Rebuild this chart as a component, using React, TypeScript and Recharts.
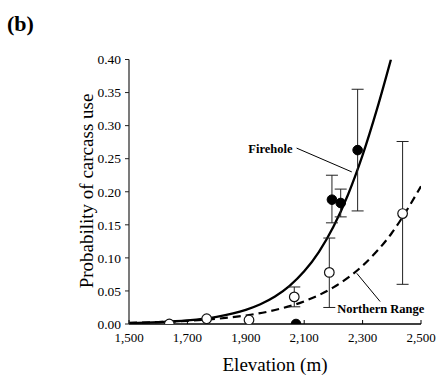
import React from 'react';
import {
  ComposedChart,
  Line,
  Scatter,
  XAxis,
  YAxis,
  ErrorBar,
  ReferenceLine,
  ReferenceDot,
} from 'recharts';

// ---- tick labels ----
const xTicks = [1500, 1700, 1900, 2100, 2300, 2500];
const yTicks = [0, 0.05, 0.1, 0.15, 0.2, 0.25, 0.3, 0.35, 0.4];

// ---- fitted curve: Firehole (solid) ----
const fireholeCurveElev = [1500, 1600, 1700, 1800, 1900, 1950, 2000, 2050, 2100, 2150, 2200, 2250, 2300, 2350, 2397];
const fireholeCurveProb = [0.0014, 0.0028, 0.0055, 0.0109, 0.0214, 0.0299, 0.0416, 0.0577, 0.0796, 0.1088, 0.147, 0.1955, 0.2553, 0.326, 0.4];

// ---- fitted curve: Northern Range (dashed) ----
const northernCurveElev = [1500, 1600, 1700, 1800, 1900, 2000, 2100, 2200, 2300, 2400, 2500];
const northernCurveProb = [0.0018, 0.0029, 0.0048, 0.0079, 0.0129, 0.0211, 0.0343, 0.0554, 0.0882, 0.1376, 0.2084];

// ---- observed: Firehole (filled circles) ----
const fireholeElev = [2072, 2195, 2225, 2283];
const fireholeProb = [0, 0.188, 0.183, 0.263];
const fireholeLow = [null, 0.153, 0.162, 0.171];
const fireholeHigh = [null, 0.225, 0.204, 0.355];

// ---- observed: Northern Range (open circles) ----
const northernElev = [1638, 1766, 1911, 2066, 2186, 2437];
const northernProb = [0, 0.008, 0.006, 0.041, 0.078, 0.167];
const northernLow = [null, null, null, 0.026, 0.025, 0.06];
const northernHigh = [null, null, null, 0.056, 0.13, 0.276];

const curve = (xs: number[], ys: number[]) => xs.map((e, i) => ({ e, p: ys[i] }));
const withErr = (xs: number[], ys: number[], lo: (number | null)[], hi: (number | null)[]) =>
  xs
    .map((e, i) => ({ e, p: ys[i], lo: lo[i], hi: hi[i] }))
    .filter((d) => d.lo != null && d.hi != null)
    .map((d) => ({ e: d.e, p: d.p, err: [d.p - (d.lo as number), (d.hi as number) - d.p] }));
const noErr = (xs: number[], ys: number[], lo: (number | null)[]) =>
  xs.map((e, i) => ({ e, p: ys[i], lo: lo[i] })).filter((d) => d.lo == null).map((d) => ({ e: d.e, p: d.p }));

const fireholeCurve = curve(fireholeCurveElev, fireholeCurveProb);
const northernCurve = curve(northernCurveElev, northernCurveProb);
const fireholeErrPts = withErr(fireholeElev, fireholeProb, fireholeLow, fireholeHigh);
const fireholePlainPts = noErr(fireholeElev, fireholeProb, fireholeLow);
const northernErrPts = withErr(northernElev, northernProb, northernLow, northernHigh);
const northernPlainPts = noErr(northernElev, northernProb, northernLow);

const SERIF = '"Liberation Serif", "DejaVu Serif", serif';
const W = 438;
const H = 383;

const openDot = (p: any) => <circle cx={p.cx} cy={p.cy} r={4.8} fill="#fff" stroke="#111" strokeWidth={1.2} />;
const filledDot = (p: any) => <circle cx={p.cx} cy={p.cy} r={4.8} fill="#000" stroke="#000" strokeWidth={1} />;

const labelShape = (text: string, anchor: 'start' | 'end') => (p: any) => (
  <text x={p.cx} y={p.cy} textAnchor={anchor} fontFamily={SERIF} fontWeight="bold" fontSize={12.5} fill="#000">
    {text}
  </text>
);

export default function App() {
  return (
    <div style={{ position: 'absolute', left: 0, top: 0, width: W, height: H, background: '#fff' }}>
      <ComposedChart
        width={W}
        height={H}
        margin={{ top: 59.5, right: 17, bottom: 0, left: 0 }}
        style={{ position: 'absolute', left: 0, top: 0 }}
      >
        <XAxis
          type="number"
          dataKey="e"
          domain={[1500, 2500]}
          ticks={xTicks}
          allowDataOverflow
          height={59}
          tickFormatter={(v: number) => v.toLocaleString('en-US')}
          tick={{ fontFamily: SERIF, fontSize: 13, fill: '#000' }}
          tickSize={-4}
          tickMargin={13}
          axisLine={{ stroke: '#000', strokeWidth: 1.5 }}
          tickLine={{ stroke: '#000', strokeWidth: 1 }}
        />
        <YAxis
          type="number"
          dataKey="p"
          domain={[0, 0.4]}
          ticks={yTicks}
          allowDataOverflow
          width={129}
          tickFormatter={(v: number) => v.toFixed(2)}
          tick={{ fontFamily: SERIF, fontSize: 13.5, fill: '#000' }}
          tickSize={4}
          tickMargin={4}
          axisLine={{ stroke: '#222', strokeWidth: 1.2 }}
          tickLine={{ stroke: '#222', strokeWidth: 1 }}
        />
        <Line
          data={northernCurve}
          dataKey="p"
          type="monotone"
          stroke="#000"
          strokeWidth={2.2}
          strokeDasharray="8 5"
          dot={false}
          activeDot={false}
          isAnimationActive={false}
        />
        <Line
          data={fireholeCurve}
          dataKey="p"
          type="monotone"
          stroke="#000"
          strokeWidth={2.3}
          dot={false}
          activeDot={false}
          isAnimationActive={false}
        />
        <ReferenceLine
          segment={[{ x: 2074, y: 0.266 }, { x: 2263, y: 0.23 }]}
          stroke="#000"
          strokeWidth={1}
        />
        <ReferenceLine
          segment={[{ x: 2280, y: 0.0767 }, { x: 2360, y: 0.034 }]}
          stroke="#000"
          strokeWidth={1}
        />
        <Scatter data={northernErrPts} dataKey="p" shape={openDot} isAnimationActive={false}>
          <ErrorBar dataKey="err" direction="y" width={6} stroke="#222" strokeWidth={1} isAnimationActive={false} />
        </Scatter>
        <Scatter data={northernPlainPts} dataKey="p" shape={openDot} isAnimationActive={false} />
        <Scatter data={fireholeErrPts} dataKey="p" shape={filledDot} isAnimationActive={false}>
          <ErrorBar dataKey="err" direction="y" width={6} stroke="#222" strokeWidth={1} isAnimationActive={false} />
        </Scatter>
        <Scatter data={fireholePlainPts} dataKey="p" shape={filledDot} isAnimationActive={false} />
        <ReferenceDot x={2060} y={0.258} r={0} shape={labelShape('Firehole', 'end')} />
        <ReferenceDot x={2213} y={0.017} r={0} shape={labelShape('Northern Range', 'start')} />
      </ComposedChart>
      <svg width={W} height={H} style={{ position: 'absolute', left: 0, top: 0, pointerEvents: 'none' }}>
        <text x={7} y={31} fontFamily={SERIF} fontWeight="bold" fontSize={22} fill="#000">
          (b)
        </text>
        <text
          x={0}
          y={0}
          transform="translate(93,191) rotate(-90)"
          textAnchor="middle"
          fontFamily={SERIF}
          fontSize={19}
          fill="#000"
        >
          Probability of carcass use
        </text>
        <text x={275} y={371} textAnchor="middle" fontFamily={SERIF} fontSize={19} fill="#000">
          Elevation (m)
        </text>
      </svg>
    </div>
  );
}
